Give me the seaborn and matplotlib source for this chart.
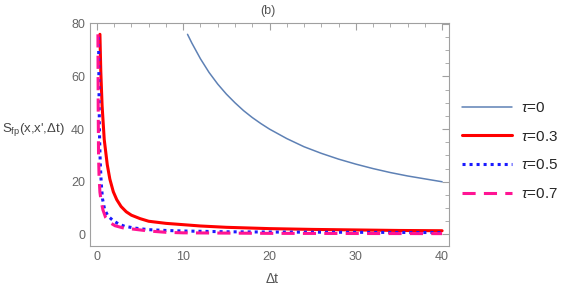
import numpy as np
import pandas as pd
import matplotlib
matplotlib.use("Agg")
import matplotlib.pyplot as plt
from matplotlib.ticker import MultipleLocator
import seaborn as sns

# values
dt_tau0 = [10.5, 11, 12, 13, 14, 15, 16, 17, 18, 19, 20, 22, 24, 26, 28, 30, 32, 34, 36, 38, 40]
s_tau0 = [76, 72.7, 66.7, 61.5, 57.1, 53.3, 50, 47, 44.4, 42.1, 40, 36.4, 33.3, 30.8, 28.6,
          26.7, 25, 23.5, 22.2, 21.1, 20]

dt_tau03 = [0.35, 0.45, 0.6, 0.85, 1.2, 1.5, 1.9, 2.3, 2.8, 3.4, 4, 5, 6, 8, 10, 12, 15, 20,
            25, 30, 35, 40]
s_tau03 = [76, 62, 49, 36, 26.5, 21, 16.2, 13.2, 10.6, 8.6, 7.3, 6.0, 5.0, 4.2, 3.7, 3.2, 2.7,
           2.2, 1.9, 1.7, 1.5, 1.4]

dt_tau05 = [0.19, 0.25, 0.3, 0.38, 0.5, 0.65, 0.9, 1.3, 1.9, 2.5, 3.2, 4.4, 6, 8, 10,
            15, 20, 30, 40]
s_tau05 = [75, 52, 38, 28, 19.5, 13.5, 9.4, 6.9, 5.2, 4.0, 3.1, 2.4, 1.8, 1.5, 1.3,
           1.0, 0.9, 0.8, 0.7]

dt_tau07 = [0.12, 0.15, 0.19, 0.25, 0.35, 0.5, 0.7, 1.0, 1.5, 2.1, 3, 4.5, 6, 8, 10, 20, 40]
s_tau07 = [76, 48, 30, 22, 16, 12.5, 9.3, 6.5, 4.5, 3.3, 2.5, 1.9, 1.3, 0.8, 0.6, 0.4, 0.3]

series = [
    (r"$\tau$=0", dt_tau0, s_tau0, "#5E81B5", 1.1, "-"),
    (r"$\tau$=0.3", dt_tau03, s_tau03, "#FF0000", 2.2, "-"),
    (r"$\tau$=0.5", dt_tau05, s_tau05, "#1A1AFF", 2.2, (0, (1, 1.3))),
    (r"$\tau$=0.7", dt_tau07, s_tau07, "#FF1493", 2.2, (0, (4.3, 2.7))),
]

sns.set_style("white")
plt.rcParams["font.family"] = ["Liberation Sans", "DejaVu Sans"]
plt.rcParams["mathtext.fontset"] = "custom"
plt.rcParams["mathtext.rm"] = "Liberation Sans"
plt.rcParams["mathtext.it"] = "Liberation Sans:italic"

fig = plt.figure(figsize=(5.68, 3.06), dpi=100)
ax = fig.add_axes([90 / 568, 1 - 246 / 306, (449 - 90) / 568, (246 - 23) / 306])

for label, xs, ys, color, lw, ls in series:
    df = pd.DataFrame({"dt": xs, "S": ys})
    sns.lineplot(data=df, x="dt", y="S", ax=ax, color=color, lw=lw,
                 linestyle=ls, label=label, estimator=None)

ax.set_xlim(-0.8, 40.8)
ax.set_ylim(-4.4, 80.3)
ax.xaxis.set_major_locator(MultipleLocator(10))
ax.xaxis.set_minor_locator(MultipleLocator(2))
ax.yaxis.set_major_locator(MultipleLocator(20))
ax.yaxis.set_minor_locator(MultipleLocator(5))
ax.tick_params(which="both", direction="in", top=True, right=True,
               colors="#A0A0A0", labelcolor="#666666", labelsize=9)
ax.tick_params(which="major", length=5, width=0.8)
ax.tick_params(which="minor", length=3, width=0.6)
for sp in ax.spines.values():
    sp.set_color("#A0A0A0")
    sp.set_linewidth(0.8)
ax.set_xlabel("")
ax.set_ylabel("")

fig.text(268 / 568, 1 - 11 / 306, "(b)", ha="center", va="center",
         fontsize=9, color="#555555")
fig.text(272 / 568, 1 - 279 / 306, "Δt", ha="center", va="center",
         fontsize=10, color="#555555")
fig.text(2 / 568, 1 - 130 / 306, r"S$_{\mathregular{fp}}$(x,x',Δt)",
         ha="left", va="center", fontsize=9.5, color="#444444")

ax.legend(loc="center left", bbox_to_anchor=(462 / 568, 1 - 151 / 306),
          bbox_transform=fig.transFigure, frameon=False, fontsize=11,
          handlelength=3.27, handletextpad=0.6, labelspacing=0.96,
          borderpad=0, borderaxespad=0)

fig.savefig("out.png", dpi=100)
